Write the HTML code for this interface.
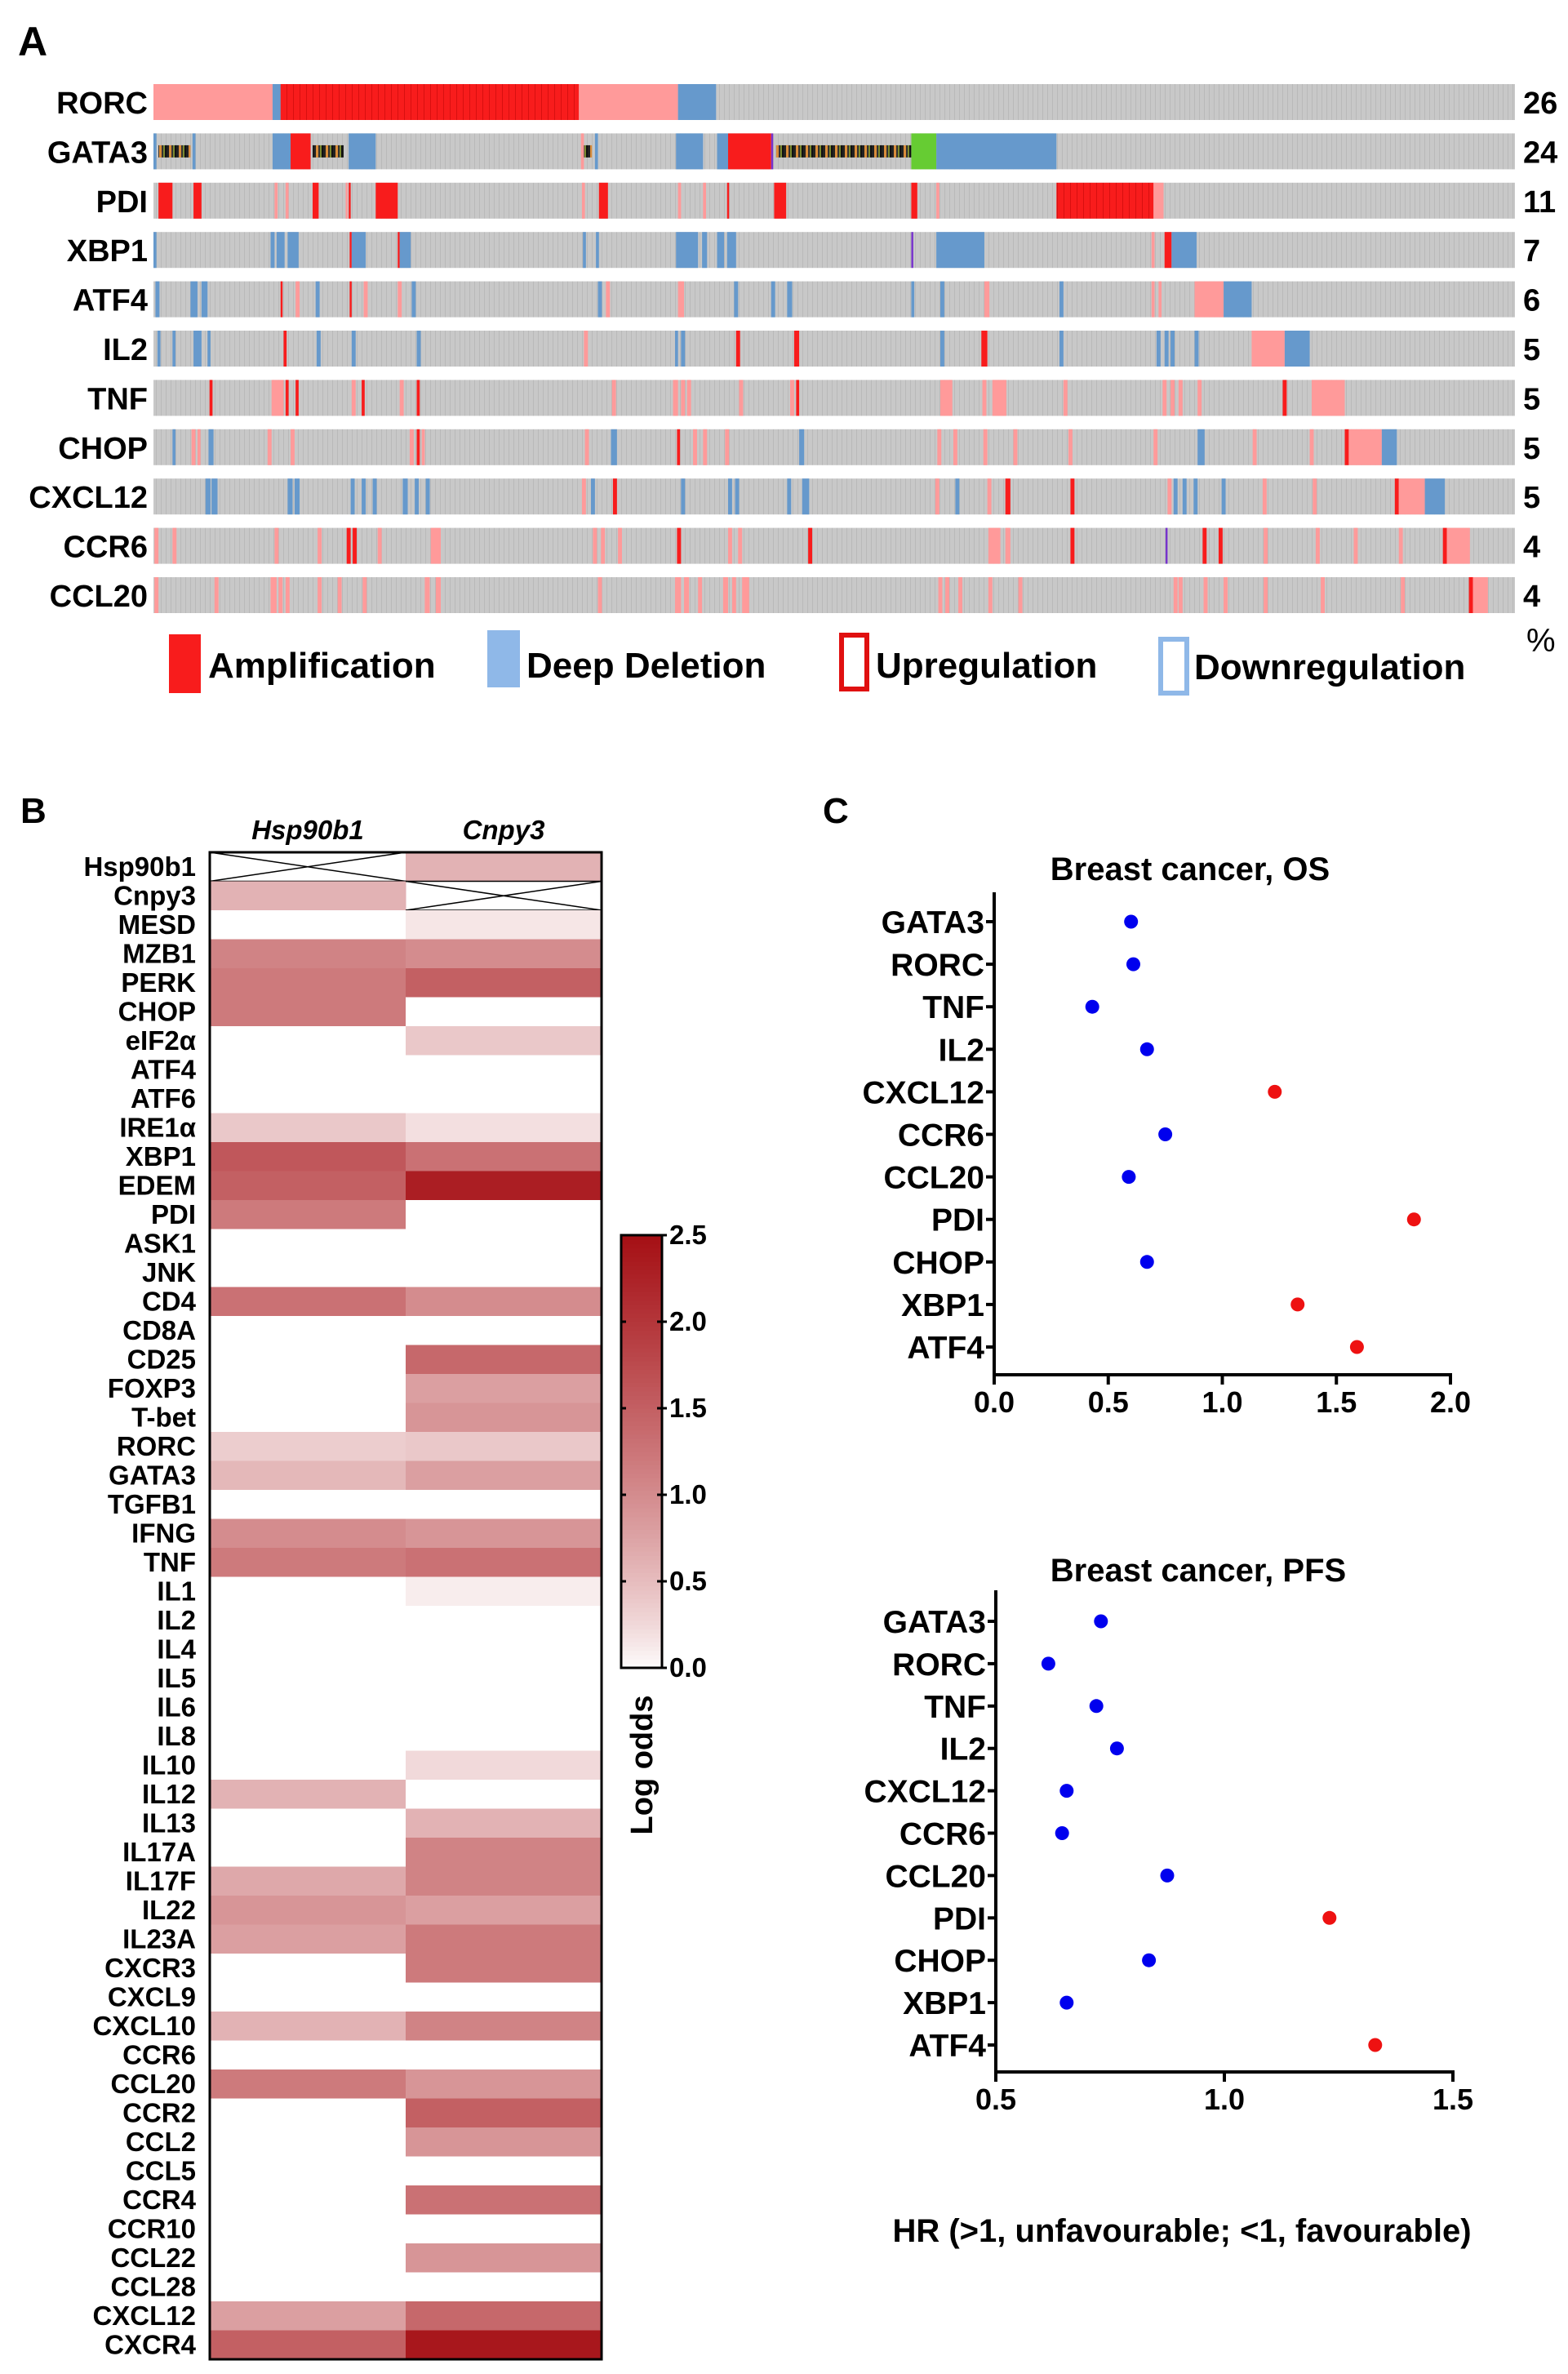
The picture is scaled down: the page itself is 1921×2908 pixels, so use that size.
<!DOCTYPE html>
<html><head><meta charset="utf-8">
<style>
html,body{margin:0;padding:0;background:#fff;}
svg{display:block;font-family:"Liberation Sans",sans-serif;}
</style></head>
<body>
<svg id="fig" width="1921" height="2908" viewBox="0 0 1921 2908" xmlns="http://www.w3.org/2000/svg">
<defs>
<pattern id="gstripe" width="6" height="10" patternUnits="userSpaceOnUse"><rect width="6" height="10" fill="#c8c8c8"/><rect x="5" width="1" height="10" fill="#b9b9b9"/></pattern>
<pattern id="mix" width="12" height="10" patternUnits="userSpaceOnUse"><rect width="12" height="10" fill="#c8c8c8"/><rect x="0" width="3" height="10" fill="#222"/><rect x="3" width="3" height="10" fill="#d98c3a"/><rect x="6" width="2" height="10" fill="#333"/><rect x="8" width="2" height="10" fill="#7a8a30"/><rect x="10" width="2" height="10" fill="#111"/></pattern>
<pattern id="rstripe" width="8" height="10" patternUnits="userSpaceOnUse"><rect width="8" height="10" fill="#f81c1c"/><rect x="7" width="1" height="10" fill="#d81010"/></pattern>
</defs>
<text x="22" y="68" font-size="50" font-weight="bold">A</text>
<text x="25" y="1008" font-size="44" font-weight="bold">B</text>
<text x="1008" y="1008" font-size="44" font-weight="bold">C</text>
<g id="onco"></g>
<g id="legendA">
  <rect x="207" y="777" width="39" height="72" fill="#f81c1c"/>
  <text x="255" y="830" font-size="44" font-weight="bold">Amplification</text>
  <rect x="597" y="772" width="40" height="70" fill="#8fb8e8"/>
  <text x="645" y="830" font-size="44" font-weight="bold">Deep Deletion</text>
  <rect x="1031" y="778" width="31" height="66" fill="none" stroke="#e01010" stroke-width="6"/>
  <text x="1073" y="830" font-size="44" font-weight="bold">Upregulation</text>
  <rect x="1422" y="783" width="32" height="66" fill="none" stroke="#8fb8e8" stroke-width="6"/>
  <text x="1463" y="832" font-size="44" font-weight="bold">Downregulation</text>
  <text x="1870" y="798" font-size="40">%</text>
</g>
<g id="heat"></g>
<g id="os"></g>
<g id="pfs"></g>
<text x="1448" y="2746" font-size="40" font-weight="bold" text-anchor="middle">HR (&gt;1, unfavourable; &lt;1, favourable)</text>
</svg>
<script>
// ===== Panel A data =====
const oncoGenes = ["RORC","GATA3","PDI","XBP1","ATF4","IL2","TNF","CHOP","CXCL12","CCR6","CCL20"];
const oncoPct = [26,24,11,7,6,5,5,5,5,4,4];
const segRORC = [[0,119,'p'],[119,127,'b'],[127,425,'R'],[425,524,'p'],[524,562,'b']];
const segGATA3 = [[0,3,'b'],[5,37,'m'],[39,42,'b'],[119,137,'b'],[137,157,'r'],[159,190,'m'],[195,222,'b'],[427,430,'p'],[430,438,'m'],[441,444,'b'],[522,549,'b'],[563,574,'b'],[574,617,'r'],[617,619,'u'],[622,757,'m'],[757,782,'g'],[782,902,'b']];
const segPDI = [[5,19,'r'],[40,48,'r'],[121,124,'p'],[132,135,'p'],[159,165,'r'],[192,194,'p'],[195,197,'r'],[222,244,'r'],[428,431,'p'],[445,454,'r'],[524,527,'p'],[549,552,'p'],[573,575,'r'],[620,632,'r'],[757,763,'r'],[782,785,'p'],[902,999,'R'],[999,1009,'p']];
const segXBP1 = [[0,3,'b'],[117,121,'b'],[123,131,'b'],[134,145,'b'],[196,198,'r'],[198,212,'b'],[244,246,'r'],[246,257,'b'],[429,432,'b'],[442,445,'b'],[522,544,'b'],[548,553,'b'],[563,570,'b'],[573,582,'b'],[757,759,'u'],[782,830,'b'],[997,1000,'p'],[1010,1017,'r'],[1017,1042,'b']];
const segATF4 = [[2,6,'b'],[37,44,'b'],[48,54,'b'],[127,129,'r'],[142,146,'p'],[162,166,'b'],[196,198,'r'],[210,214,'p'],[244,248,'p'],[258,262,'b'],[444,448,'b'],[452,456,'p'],[524,530,'p'],[580,584,'b'],[617,621,'b'],[633,638,'b'],[757,760,'b'],[786,790,'b'],[830,835,'p'],[905,909,'b'],[997,1000,'p'],[1004,1007,'p'],[1040,1069,'p'],[1069,1097,'b']];
const segIL2 = [[4,7,'b'],[19,22,'b'],[40,48,'b'],[54,57,'b'],[130,133,'r'],[163,167,'b'],[198,202,'b'],[263,267,'b'],[430,434,'p'],[521,524,'b'],[527,531,'b'],[582,586,'r'],[640,645,'r'],[786,790,'b'],[827,833,'r'],[905,909,'b'],[1002,1006,'b'],[1010,1014,'b'],[1016,1020,'b'],[1040,1044,'b'],[1097,1130,'p'],[1130,1155,'b']];
const segTNF = [[56,59,'r'],[118,130,'p'],[132,135,'r'],[142,145,'r'],[198,202,'p'],[208,211,'r'],[246,250,'p'],[263,266,'r'],[458,462,'p'],[519,524,'p'],[527,531,'p'],[533,537,'p'],[585,589,'p'],[636,640,'p'],[642,645,'r'],[786,798,'p'],[828,832,'p'],[838,852,'p'],[909,913,'p'],[1008,1012,'p'],[1016,1020,'p'],[1024,1028,'p'],[1043,1047,'p'],[1128,1132,'r'],[1157,1190,'p']];
const segCHOP = [[19,22,'b'],[38,42,'p'],[44,47,'p'],[55,60,'b'],[114,118,'p'],[137,141,'p'],[256,260,'p'],[263,266,'r'],[268,271,'p'],[431,435,'p'],[457,463,'b'],[523,526,'r'],[539,543,'p'],[549,553,'p'],[571,575,'p'],[645,650,'b'],[783,787,'p'],[799,803,'p'],[829,833,'p'],[859,863,'p'],[914,918,'p'],[999,1003,'p'],[1043,1050,'b'],[1098,1102,'p'],[1155,1159,'p'],[1190,1194,'r'],[1194,1227,'p'],[1227,1242,'b']];
const segCXCL12 = [[52,57,'b'],[58,64,'b'],[134,139,'b'],[141,146,'b'],[197,201,'b'],[208,212,'b'],[219,223,'b'],[249,254,'b'],[261,265,'b'],[272,276,'b'],[428,432,'p'],[437,441,'b'],[459,463,'r'],[527,531,'b'],[574,578,'b'],[581,585,'b'],[633,637,'b'],[648,655,'b'],[781,785,'p'],[801,805,'b'],[833,837,'p'],[851,856,'r'],[916,920,'r'],[1013,1017,'p'],[1019,1023,'b'],[1028,1032,'b'],[1039,1043,'b'],[1067,1071,'b'],[1108,1112,'p'],[1158,1162,'p'],[1240,1244,'r'],[1244,1270,'p'],[1270,1290,'b']];
const segCCR6 = [[1,5,'p'],[19,23,'p'],[121,125,'p'],[164,168,'p'],[193,197,'r'],[199,203,'r'],[224,228,'p'],[277,287,'p'],[439,443,'p'],[447,451,'p'],[464,468,'p'],[523,527,'r'],[574,578,'p'],[584,588,'p'],[654,658,'r'],[834,846,'p'],[851,856,'p'],[916,920,'r'],[1011,1013,'u'],[1048,1052,'r'],[1064,1068,'r'],[1109,1113,'p'],[1161,1165,'p'],[1199,1203,'p'],[1244,1248,'p'],[1288,1292,'r'],[1292,1315,'p']];
const segCCL20 = [[1,5,'p'],[61,65,'p'],[117,123,'p'],[125,129,'p'],[132,136,'p'],[164,168,'p'],[184,188,'p'],[209,213,'p'],[271,276,'p'],[282,287,'p'],[444,448,'p'],[521,527,'p'],[530,535,'p'],[544,548,'p'],[569,574,'p'],[578,582,'p'],[588,595,'p'],[784,788,'p'],[791,795,'p'],[804,808,'p'],[834,838,'p'],[864,868,'p'],[1019,1023,'p'],[1024,1028,'p'],[1049,1053,'p'],[1069,1073,'p'],[1109,1113,'p'],[1166,1170,'p'],[1246,1250,'p'],[1314,1318,'r'],[1318,1333,'p']];
const oncoSegs = [segRORC,segGATA3,segPDI,segXBP1,segATF4,segIL2,segTNF,segCHOP,segCXCL12,segCCR6,segCCL20];
const NS = "http://www.w3.org/2000/svg";
function mk(tag, attrs, parent){const e=document.createElementNS(NS,tag);for(const k in attrs)e.setAttribute(k,attrs[k]);parent.appendChild(e);return e;}
(function(){
  const g=document.getElementById('onco');
  const x0=188,x1=1856,nSamp=1360,sx=(x1-x0)/nSamp;
  const top0=103,rowStep=60.4,bh=44;
  const col={p:'#ff9a9a',r:'#f81c1c',R:'url(#rstripe)',b:'#6699cc',m:'url(#mix)',g:'#66cc33',u:'#7733cc'};
  oncoGenes.forEach((gene,i)=>{
    const y=top0+i*rowStep;
    const lab=mk('text',{x:181,y:y+bh/2+14,'font-size':38,'font-weight':'bold','text-anchor':'end'},g);
    lab.textContent=gene;
    
    
    const bg=mk('rect',{x:x0,y:y,width:x1-x0,height:bh,fill:'url(#gstripe)'},g);
    
    
    oncoSegs[i].forEach(s=>{
      const ty=s[2];
      let yy=y,hh=bh;
      if(ty==='m'){yy=y+bh*0.33;hh=bh*0.34;}
      const r=mk('rect',{x:x0+s[0]*sx,y:yy,width:Math.max(2,(s[1]-s[0])*sx),height:hh,fill:col[ty]},g);
      
      
    });
    const pt=mk('text',{x:1866,y:y+bh/2+14,'font-size':38,'font-weight':'bold'},g);
    pt.textContent=oncoPct[i];
    
    
  });
})();

// ===== Panel B data =====
const heatRows = ["Hsp90b1","Cnpy3","MESD","MZB1","PERK","CHOP","eIF2\u03b1","ATF4","ATF6","IRE1\u03b1","XBP1","EDEM","PDI","ASK1","JNK","CD4","CD8A","CD25","FOXP3","T-bet","RORC","GATA3","TGFB1","IFNG","TNF","IL1","IL2","IL4","IL5","IL6","IL8","IL10","IL12","IL13","IL17A","IL17F","IL22","IL23A","CXCR3","CXCL9","CXCL10","CCR6","CCL20","CCR2","CCL2","CCL5","CCR4","CCR10","CCL22","CCL28","CXCL12","CXCR4"];
const heatCols = ["Hsp90b1","Cnpy3"];
const valHsp90b1 = [null,0.6,0,1.1,1.2,1.2,0,0,0,0.4,1.6,1.5,1.2,0,0,1.3,0,0,0,0,0.35,0.55,0,1.0,1.2,0,0,0,0,0,0,0,0.6,0,0,0.7,0.9,0.8,0,0,0.6,0,1.2,0,0,0,0,0,0,0,0.8,1.5];
const valCnpy3 = [0.6,null,0.15,1.0,1.5,0,0.4,0,0,0.2,1.3,2.3,0,0,0,1.0,0,1.4,0.8,0.9,0.4,0.8,0,0.9,1.3,0.1,0,0,0,0,0,0.25,0,0.6,1.1,1.1,0.8,1.2,1.2,0,1.1,0,0.9,1.5,0.9,0,1.3,0,0.9,0,1.4,2.4];
const cbarTicks = [0,0.5,1,1.5,2,2.5];
function heatColor(v){let t=Math.max(0,Math.min(1,v/2.5)); t=Math.pow(t,0.8);
  const r=Math.round(255+(165-255)*t),g=Math.round(255+(15-255)*t),b=Math.round(255+(20-255)*t);return `rgb(${r},${g},${b})`;}
(function(){
  const g=document.getElementById('heat');
  const X0=257,X1=737,Y0=1044,Y1=2890;
  const cw=(X1-X0)/heatCols.length, rh=(Y1-Y0)/heatRows.length;
  const vals=[valHsp90b1,valCnpy3];
  heatCols.forEach((c,j)=>{
    const t=mk('text',{x:X0+cw*(j+0.5),y:1028,'font-size':33,'font-weight':'bold','font-style':'italic','text-anchor':'middle'},g);
    t.textContent=c;
    
    
  });
  heatRows.forEach((r,i)=>{
    const y=Y0+i*rh;
    const t=mk('text',{x:240,y:y+rh/2+11,'font-size':33,'font-weight':'bold','text-anchor':'end'},g);
    t.textContent=r;
    
    
    vals.forEach((arr,j)=>{
      const v=arr[i];const x=X0+j*cw;
      if(v===null){
        mk('line',{x1:x,y1:y,x2:x+cw,y2:y+rh,stroke:'#000','stroke-width':1.5},g);
        mk('line',{x1:x,y1:y+rh,x2:x+cw,y2:y,stroke:'#000','stroke-width':1.5},g);
        mk('line',{x1:x,y1:y,x2:x+cw,y2:y,stroke:'#000','stroke-width':1.5},g);
        mk('line',{x1:x,y1:y+rh,x2:x+cw,y2:y+rh,stroke:'#000','stroke-width':1.5},g);
      } else {
        const c=mk('rect',{x:x,y:y,width:cw+0.5,height:rh+0.5,fill:heatColor(v)},g);
        
        
      }
    });
  });
  const fr=mk('rect',{x:X0,y:Y0,width:X1-X0,height:Y1-Y0,fill:'none',stroke:'#000','stroke-width':3},g);
  
  
  const cx0=761,cx1=811,cy0=1513,cy1=2043;
  for(let k=0;k<100;k++){
    const v=2.5*(k+0.5)/100;
    mk('rect',{x:cx0,y:cy1-(k+1)*(cy1-cy0)/100,width:cx1-cx0,height:(cy1-cy0)/100+0.6,fill:heatColor(v)},g);
  }
  const cb=mk('rect',{x:cx0,y:cy0,width:cx1-cx0,height:cy1-cy0,fill:'none',stroke:'#000','stroke-width':3},g);
  
  
  cbarTicks.forEach(v=>{
    const y=cy1-(v/2.5)*(cy1-cy0);
    mk('line',{x1:cx1-6,y1:y,x2:cx1+6,y2:y,stroke:'#000','stroke-width':3},g);
    mk('line',{x1:cx0,y1:y,x2:cx0+6,y2:y,stroke:'#000','stroke-width':3},g);
    const t=mk('text',{x:820,y:y+11,'font-size':33,'font-weight':'bold'},g);
    t.textContent=v.toFixed(1);
    
    
  });
  const lt=mk('text',{x:0,y:0,'font-size':38,'font-weight':'bold','text-anchor':'middle',transform:'translate(799,2162) rotate(-90)'},g);
  lt.textContent='Log odds';
  
  
})();

// ===== Panel C data =====
const hrGenes = ["GATA3","RORC","TNF","IL2","CXCL12","CCR6","CCL20","PDI","CHOP","XBP1","ATF4"];
const osHR = [0.60,0.61,0.43,0.67,1.23,0.75,0.59,1.84,0.67,1.33,1.59];
const pfsHR = [0.73,0.615,0.72,0.765,0.655,0.645,0.875,1.23,0.835,0.655,1.33];
const osTicks = [0.0,0.5,1.0,1.5,2.0];
const pfsTicks = [0.5,1.0,1.5];
function dotChart(gid,title,vals,ticks,cfg){
  const g=document.getElementById(gid);
  const xs=v=>cfg.x0+(v-ticks[0])/(ticks[ticks.length-1]-ticks[0])*(cfg.x1-cfg.x0);
  const ys=i=>cfg.yFirst+i*(cfg.yLast-cfg.yFirst)/(hrGenes.length-1);
  const tt=mk('text',{x:cfg.titleX,y:cfg.titleY,'font-size':40,'font-weight':'bold','text-anchor':'middle'},g);
  tt.textContent=title;
  
  
  const ya=mk('line',{x1:cfg.x0,y1:cfg.axTop,x2:cfg.x0,y2:cfg.axY,stroke:'#000','stroke-width':4},g);
  
  
  const xa=mk('line',{x1:cfg.x0-2,y1:cfg.axY,x2:cfg.x1+2,y2:cfg.axY,stroke:'#000','stroke-width':4},g);
  
  
  ticks.forEach(v=>{
    mk('line',{x1:xs(v),y1:cfg.axY,x2:xs(v),y2:cfg.axY+12,stroke:'#000','stroke-width':4},g);
    const t=mk('text',{x:xs(v),y:cfg.axY+46,'font-size':36,'font-weight':'bold','text-anchor':'middle'},g);
    t.textContent=v.toFixed(1);
    
    
  });
  hrGenes.forEach((gn,i)=>{
    const y=ys(i);
    mk('line',{x1:cfg.x0-10,y1:y,x2:cfg.x0,y2:y,stroke:'#000','stroke-width':4},g);
    const t=mk('text',{x:cfg.x0-12,y:y+14,'font-size':39,'font-weight':'bold','text-anchor':'end'},g);
    t.textContent=gn;
    
    
    const c=mk('circle',{cx:xs(vals[i]),cy:y,r:8.5,fill:vals[i]>1?'#ee1111':'#0000ee'},g);
    
    
  });
}
dotChart('os','Breast cancer, OS',osHR,osTicks,{x0:1218,x1:1777,yFirst:1129,yLast:1650,axTop:1093,axY:1684,titleX:1458,titleY:1078});
dotChart('pfs','Breast cancer, PFS',pfsHR,pfsTicks,{x0:1220,x1:1780,yFirst:1986,yLast:2505,axTop:1948,axY:2538,titleX:1468,titleY:1937});
</script>
</body></html>
